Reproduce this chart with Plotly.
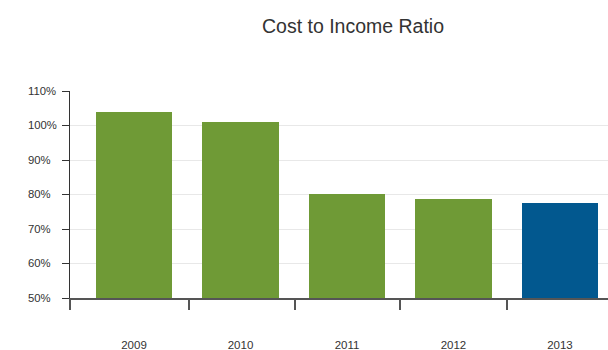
import plotly.graph_objects as go

years = ["2009", "2010", "2011", "2012", "2013"]
ratios = [103.9, 101.0, 80.2, 78.6, 77.4]
bar_colors = ["#6f9a36", "#6f9a36", "#6f9a36", "#6f9a36", "#02588f"]
y_ticks = [50, 60, 70, 80, 90, 100, 110]
y_labels = [f"{v}%" for v in y_ticks]

W, H = 608, 350
ML = 20
plot_w = W - ML
fig = go.Figure()
fig.add_trace(go.Bar(x=list(range(len(years))), y=ratios, marker=dict(color=bar_colors, line=dict(width=0)),
                     width=0.714, base=0, showlegend=False, hoverinfo="skip"))
# invisible helper traces driving the boundary-tick axis and the left-aligned label axis
fig.add_trace(go.Scatter(x=[0], y=[50], xaxis="x2", mode="markers", marker=dict(opacity=0),
                         showlegend=False, hoverinfo="skip"))
fig.add_trace(go.Scatter(x=[0], y=[50], yaxis="y2", mode="markers", marker=dict(opacity=0),
                         showlegend=False, hoverinfo="skip"))

xr = [-0.601, 4.451]
dom0 = (70 - ML) / plot_w
fig.update_layout(
    template="none",
    width=W, height=H,
    margin=dict(l=ML, r=0, t=91, b=52, autoexpand=False),
    paper_bgcolor="white", plot_bgcolor="white",
    font=dict(family="Liberation Sans, Arial, sans-serif", color="#333333", size=11.5),
    title=dict(text="Cost to Income Ratio", x=353 / W, xanchor="center", y=1 - 26 / H, yanchor="middle",
               font=dict(size=19.5, color="#333333")),
    xaxis=dict(domain=[dom0, 1], range=xr, tickvals=list(range(len(years))), ticktext=years, ticks="",
               showgrid=False, showline=True, linecolor="#555555", linewidth=1.5, zeroline=False,
               ticklabelstandoff=35, automargin=False, tickfont=dict(size=11.5, color="#333333")),
    xaxis2=dict(domain=[dom0, 1], range=xr, overlaying="x", side="bottom", anchor="y",
                tickvals=[-0.601, 0.52, 1.51, 2.5, 3.5], ticktext=[""] * 5,
                ticks="outside", ticklen=11, tickcolor="#555555", tickwidth=1.5, showgrid=False,
                showline=False, zeroline=False, automargin=False),
    yaxis=dict(range=[50, 110], tickvals=y_ticks, showticklabels=False, ticks="outside", ticklen=7,
               tickcolor="#333333", showline=True, linecolor="#333333", linewidth=1, showgrid=True,
               gridcolor="#e8e8e8", zeroline=False, automargin=False),
    yaxis2=dict(range=[50, 110], overlaying="y", anchor="free", position=(27 - ML) / plot_w, side="right",
                tickvals=y_ticks, ticktext=y_labels, ticks="", showline=False, showgrid=False,
                zeroline=False, automargin=False, tickfont=dict(size=11.3, color="#333333")),
    bargap=0,
)
fig.write_html("out.html", config={"displayModeBar": False},
               post_script="document.body.style.margin='0';document.body.style.overflow='hidden';")
